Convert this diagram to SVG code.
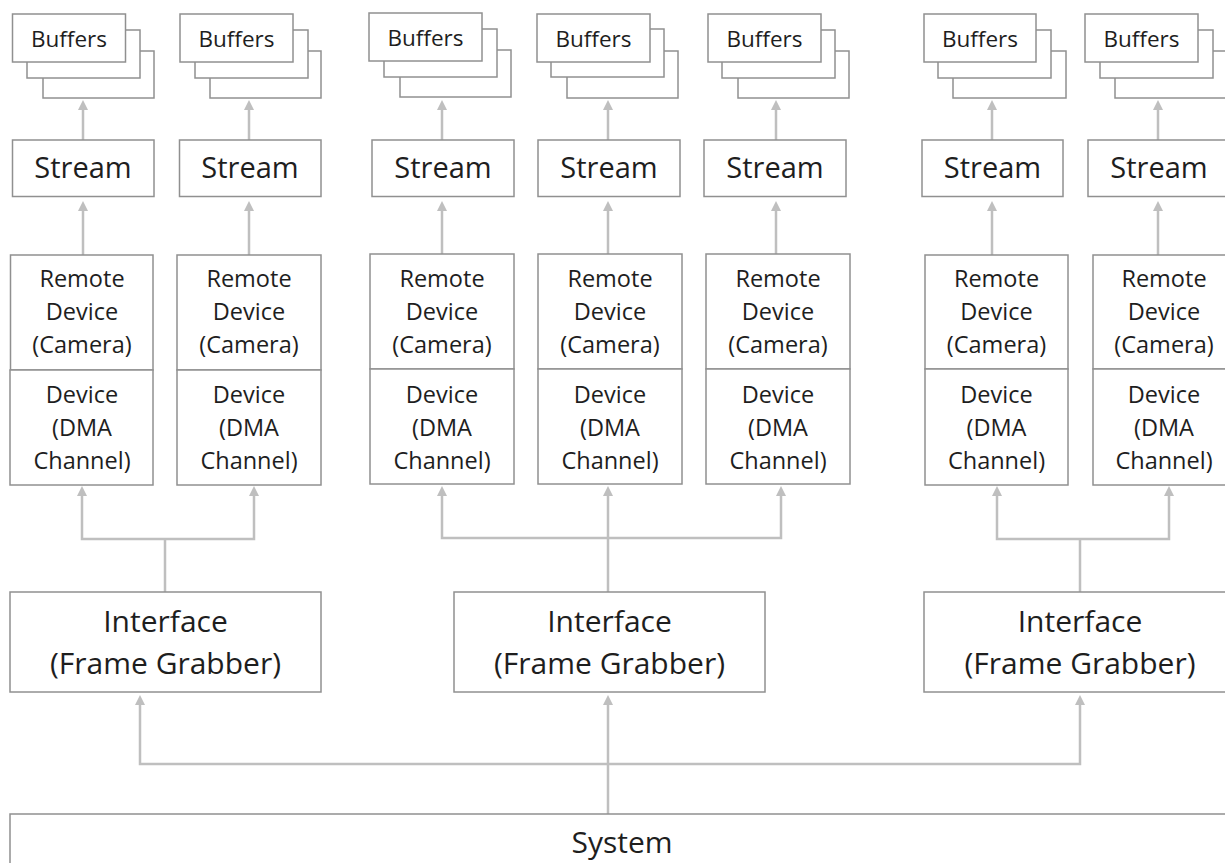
<svg xmlns="http://www.w3.org/2000/svg" width="1225" height="863" viewBox="0 0 1225 863">
<style>
  .box { fill: #ffffff; stroke: #909090; stroke-width: 1.5; }
  .t { font-family: "Open Sans", "Liberation Sans", sans-serif; fill: #1e1e1e; text-anchor: middle; }
  .buf { font-size: 22.5px; }
  .str { font-size: 29px; }
  .dev { font-size: 23.5px; }
  .big { font-size: 30px; }
  .con { fill: none; stroke: #bfbfbf; stroke-width: 2.5; }
  .arr { marker-end: url(#ah); }
</style>
<defs>
  <marker id="ah" markerUnits="userSpaceOnUse" markerWidth="10" markerHeight="10" refX="0" refY="5" orient="auto">
    <path d="M0,0 L10,5 L0,10 z" fill="#bfbfbf"/>
  </marker>
</defs>
<rect width="1225" height="863" fill="#ffffff"/>

<g id="connectors">
  <!-- stream -> buffers -->
  <line class="con arr" x1="83" y1="140" x2="83" y2="110"/>
  <line class="con arr" x1="249" y1="140" x2="249" y2="110"/>
  <line class="con arr" x1="442" y1="140" x2="442" y2="110"/>
  <line class="con arr" x1="608" y1="140" x2="608" y2="110"/>
  <line class="con arr" x1="776" y1="140" x2="776" y2="110"/>
  <line class="con arr" x1="992" y1="140" x2="992" y2="110"/>
  <line class="con arr" x1="1158" y1="140" x2="1158" y2="110"/>
  <!-- remote device -> stream -->
  <line class="con arr" x1="83" y1="255" x2="83" y2="211"/>
  <line class="con arr" x1="249" y1="255" x2="249" y2="211"/>
  <line class="con arr" x1="442" y1="255" x2="442" y2="211"/>
  <line class="con arr" x1="608" y1="255" x2="608" y2="211"/>
  <line class="con arr" x1="776" y1="255" x2="776" y2="211"/>
  <line class="con arr" x1="992" y1="255" x2="992" y2="211"/>
  <line class="con arr" x1="1158" y1="255" x2="1158" y2="211"/>
  <!-- interface 1 -> devices -->
  <line class="con" x1="165" y1="592" x2="165" y2="539"/>
  <polyline class="con arr" points="165,539 82,539 82,496"/>
  <polyline class="con arr" points="165,539 254,539 254,496"/>
  <!-- interface 2 -> devices -->
  <line class="con arr" x1="608" y1="592" x2="608" y2="496"/>
  <polyline class="con arr" points="608,538 442,538 442,496"/>
  <polyline class="con arr" points="608,538 781,538 781,496"/>
  <!-- interface 3 -> devices -->
  <line class="con" x1="1080" y1="592" x2="1080" y2="539"/>
  <polyline class="con arr" points="1080,539 997,539 997,496"/>
  <polyline class="con arr" points="1080,539 1169,539 1169,496"/>
  <!-- system -> interfaces -->
  <line class="con arr" x1="608" y1="814" x2="608" y2="705"/>
  <polyline class="con arr" points="608,764 140,764 140,705"/>
  <polyline class="con arr" points="608,764 1080,764 1080,705"/>
</g>

<!-- Column 1 -->
<g id="buffers1">
  <rect class="box" x="43" y="51" width="111" height="47"/>
  <rect class="box" x="27" y="30" width="113" height="48"/>
  <rect class="box" x="12.5" y="14" width="113" height="48"/>
  <text class="t buf" x="69" y="47">Buffers</text>
</g>
<g id="stream1">
  <rect class="box" x="12.5" y="140" width="141.5" height="56.5"/>
  <text class="t str" x="83" y="178">Stream</text>
</g>
<g id="remote1">
  <rect class="box" x="10.5" y="255" width="142.5" height="115"/>
  <text class="t dev" x="82" y="287">Remote</text>
  <text class="t dev" x="82" y="320">Device</text>
  <text class="t dev" x="82" y="353">(Camera)</text>
</g>
<g id="device1">
  <rect class="box" x="10" y="370" width="143" height="115"/>
  <text class="t dev" x="82" y="403">Device</text>
  <text class="t dev" x="82" y="436">(DMA</text>
  <text class="t dev" x="82" y="469">Channel)</text>
</g>

<!-- Column 2 -->
<g id="buffers2">
  <rect class="box" x="210" y="51" width="111" height="47"/>
  <rect class="box" x="195" y="30" width="113" height="48"/>
  <rect class="box" x="180" y="14" width="113" height="48"/>
  <text class="t buf" x="236.5" y="47">Buffers</text>
</g>
<g id="stream2">
  <rect class="box" x="179.5" y="140" width="141.5" height="56.5"/>
  <text class="t str" x="250" y="178">Stream</text>
</g>
<g id="remote2">
  <rect class="box" x="177" y="255" width="144" height="115"/>
  <text class="t dev" x="249" y="287">Remote</text>
  <text class="t dev" x="249" y="320">Device</text>
  <text class="t dev" x="249" y="353">(Camera)</text>
</g>
<g id="device2">
  <rect class="box" x="177" y="370" width="144" height="115"/>
  <text class="t dev" x="249" y="403">Device</text>
  <text class="t dev" x="249" y="436">(DMA</text>
  <text class="t dev" x="249" y="469">Channel)</text>
</g>

<!-- Column 3 -->
<g id="buffers3">
  <rect class="box" x="400" y="50" width="111" height="47"/>
  <rect class="box" x="384" y="29" width="113" height="48"/>
  <rect class="box" x="369" y="13" width="113" height="48"/>
  <text class="t buf" x="425.5" y="46">Buffers</text>
</g>
<g id="stream3">
  <rect class="box" x="372" y="140" width="142" height="56.5"/>
  <text class="t str" x="443" y="178">Stream</text>
</g>
<g id="remote3">
  <rect class="box" x="370" y="254" width="144" height="115"/>
  <text class="t dev" x="442" y="287">Remote</text>
  <text class="t dev" x="442" y="320">Device</text>
  <text class="t dev" x="442" y="353">(Camera)</text>
</g>
<g id="device3">
  <rect class="box" x="370" y="369" width="144" height="115"/>
  <text class="t dev" x="442" y="403">Device</text>
  <text class="t dev" x="442" y="436">(DMA</text>
  <text class="t dev" x="442" y="469">Channel)</text>
</g>

<!-- Column 4 -->
<g id="buffers4">
  <rect class="box" x="567" y="51" width="111" height="47"/>
  <rect class="box" x="551" y="29" width="113" height="48"/>
  <rect class="box" x="537" y="14" width="113" height="48"/>
  <text class="t buf" x="593.5" y="47">Buffers</text>
</g>
<g id="stream4">
  <rect class="box" x="538" y="140" width="142" height="56.5"/>
  <text class="t str" x="609" y="178">Stream</text>
</g>
<g id="remote4">
  <rect class="box" x="538" y="254" width="144" height="115"/>
  <text class="t dev" x="610" y="287">Remote</text>
  <text class="t dev" x="610" y="320">Device</text>
  <text class="t dev" x="610" y="353">(Camera)</text>
</g>
<g id="device4">
  <rect class="box" x="538" y="369" width="144" height="115"/>
  <text class="t dev" x="610" y="403">Device</text>
  <text class="t dev" x="610" y="436">(DMA</text>
  <text class="t dev" x="610" y="469">Channel)</text>
</g>

<!-- Column 5 -->
<g id="buffers5">
  <rect class="box" x="738" y="51" width="111" height="47"/>
  <rect class="box" x="722" y="30" width="113" height="48"/>
  <rect class="box" x="708" y="14" width="113" height="48"/>
  <text class="t buf" x="764.5" y="47">Buffers</text>
</g>
<g id="stream5">
  <rect class="box" x="704" y="140" width="142" height="56.5"/>
  <text class="t str" x="775" y="178">Stream</text>
</g>
<g id="remote5">
  <rect class="box" x="706" y="254" width="144" height="115"/>
  <text class="t dev" x="778" y="287">Remote</text>
  <text class="t dev" x="778" y="320">Device</text>
  <text class="t dev" x="778" y="353">(Camera)</text>
</g>
<g id="device5">
  <rect class="box" x="706" y="369" width="144" height="115"/>
  <text class="t dev" x="778" y="403">Device</text>
  <text class="t dev" x="778" y="436">(DMA</text>
  <text class="t dev" x="778" y="469">Channel)</text>
</g>

<!-- Column 6 -->
<g id="buffers6">
  <rect class="box" x="953" y="51" width="113" height="47"/>
  <rect class="box" x="938" y="30" width="113" height="48"/>
  <rect class="box" x="924" y="14" width="112" height="48"/>
  <text class="t buf" x="980" y="47">Buffers</text>
</g>
<g id="stream6">
  <rect class="box" x="922" y="140" width="141" height="56.5"/>
  <text class="t str" x="992.5" y="178">Stream</text>
</g>
<g id="remote6">
  <rect class="box" x="925" y="255" width="143" height="114"/>
  <text class="t dev" x="996.5" y="287">Remote</text>
  <text class="t dev" x="996.5" y="320">Device</text>
  <text class="t dev" x="996.5" y="353">(Camera)</text>
</g>
<g id="device6">
  <rect class="box" x="925" y="369" width="143" height="116"/>
  <text class="t dev" x="996.5" y="403">Device</text>
  <text class="t dev" x="996.5" y="436">(DMA</text>
  <text class="t dev" x="996.5" y="469">Channel)</text>
</g>

<!-- Column 7 -->
<g id="buffers7">
  <rect class="box" x="1115" y="51" width="113" height="47"/>
  <rect class="box" x="1100" y="30" width="113" height="48"/>
  <rect class="box" x="1085" y="14" width="113" height="48"/>
  <text class="t buf" x="1141.5" y="47">Buffers</text>
</g>
<g id="stream7">
  <rect class="box" x="1088" y="140" width="142" height="56.5"/>
  <text class="t str" x="1159" y="178">Stream</text>
</g>
<g id="remote7">
  <rect class="box" x="1093" y="255" width="144" height="114"/>
  <text class="t dev" x="1164" y="287">Remote</text>
  <text class="t dev" x="1164" y="320">Device</text>
  <text class="t dev" x="1164" y="353">(Camera)</text>
</g>
<g id="device7">
  <rect class="box" x="1093" y="369" width="144" height="116"/>
  <text class="t dev" x="1164" y="403">Device</text>
  <text class="t dev" x="1164" y="436">(DMA</text>
  <text class="t dev" x="1164" y="469">Channel)</text>
</g>

<!-- Interfaces -->
<g id="interface1">
  <rect class="box" x="10" y="592" width="311" height="100"/>
  <text class="t big" x="165.5" y="632">Interface</text>
  <text class="t big" x="165.5" y="674">(Frame Grabber)</text>
</g>
<g id="interface2">
  <rect class="box" x="454" y="592" width="311" height="100"/>
  <text class="t big" x="609.5" y="632">Interface</text>
  <text class="t big" x="609.5" y="674">(Frame Grabber)</text>
</g>
<g id="interface3">
  <rect class="box" x="924" y="592" width="312" height="100"/>
  <text class="t big" x="1080" y="632">Interface</text>
  <text class="t big" x="1080" y="674">(Frame Grabber)</text>
</g>

<!-- System -->
<g id="system">
  <rect class="box" x="10" y="814" width="1225" height="80"/>
  <text class="t big" x="622" y="853">System</text>
</g>
</svg>
